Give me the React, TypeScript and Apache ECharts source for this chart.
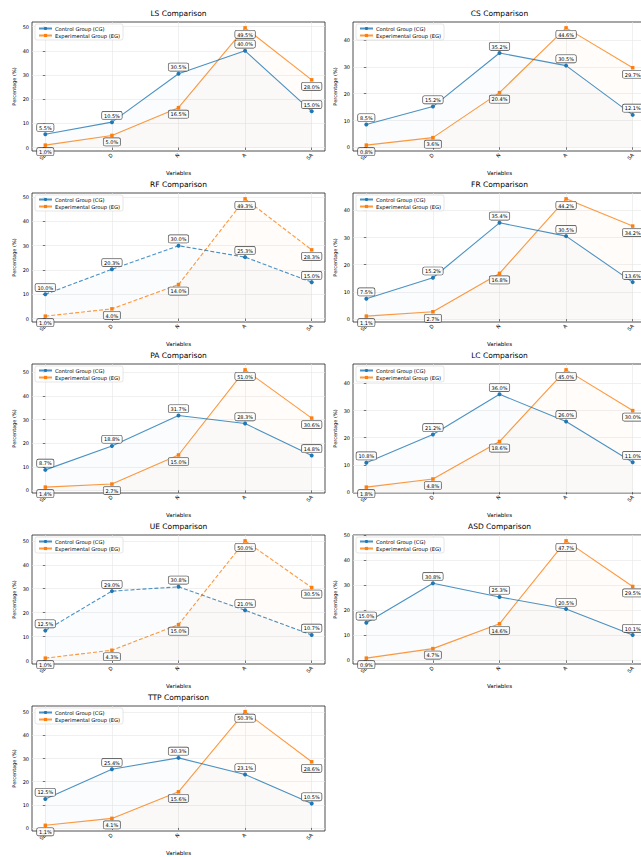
import React, { useEffect, useRef } from "react";
import * as echarts from "echarts";

const categories = ["SD", "D", "N", "A", "SA"];
const variables = ["LS", "CS", "RF", "FR", "PA", "LC", "UE", "ASD", "TTP"];
const yTickValues = [0, 10, 20, 30, 40, 50];

const lsControl = [5.5, 10.5, 30.5, 40.0, 15.0];
const lsExperimental = [1.0, 5.0, 16.5, 49.5, 28.0];
const csControl = [8.5, 15.2, 35.2, 30.5, 12.1];
const csExperimental = [0.8, 3.6, 20.4, 44.6, 29.7];
const rfControl = [10.0, 20.3, 30.0, 25.3, 15.0];
const rfExperimental = [1.0, 4.0, 14.0, 49.3, 28.3];
const frControl = [7.5, 15.2, 35.4, 30.5, 13.6];
const frExperimental = [1.1, 2.7, 16.8, 44.2, 34.2];
const paControl = [8.7, 18.8, 31.7, 28.3, 14.8];
const paExperimental = [1.4, 2.7, 15.0, 51.0, 30.6];
const lcControl = [10.8, 21.2, 36.0, 26.0, 11.0];
const lcExperimental = [1.8, 4.8, 18.6, 45.0, 30.0];
const ueControl = [12.5, 29.0, 30.8, 21.0, 10.7];
const ueExperimental = [1.0, 4.3, 15.0, 50.0, 30.5];
const asdControl = [15.0, 30.8, 25.3, 20.5, 10.1];
const asdExperimental = [0.9, 4.7, 14.6, 47.7, 29.5];
const ttpControl = [12.5, 25.4, 30.3, 23.1, 10.5];
const ttpExperimental = [1.1, 4.1, 15.6, 50.3, 28.6];

const controlSets = [lsControl, csControl, rfControl, frControl, paControl, lcControl, ueControl, asdControl, ttpControl];
const experimentalSets = [lsExperimental, csExperimental, rfExperimental, frExperimental, paExperimental, lcExperimental, ueExperimental, asdExperimental, ttpExperimental];
const dashedLines = [false, false, true, false, false, false, true, false, false];

const controlName = "Control Group (CG)";
const experimentalName = "Experimental Group (EG)";

const BLUE = "#1f77b4";
const ORANGE = "#ff7f0e";
const FONT = "DejaVu Sans";

export default function App() {
  const ref = useRef<HTMLDivElement>(null);

  useEffect(() => {
    document.body.style.margin = "0";
    document.body.style.overflow = "hidden";
    if (!ref.current) return;
    const chart = echarts.init(ref.current, undefined, { renderer: "svg" });

    const colLeft = [32, 353];
    const plotW = 293;
    const rowTop = [22, 193, 364, 535, 706];
    const plotH = 129;

    const grids: any[] = [];
    const xAxes: any[] = [];
    const yAxes: any[] = [];
    const series: any[] = [];
    const titles: any[] = [];
    const legends: any[] = [];

    variables.forEach((v, i) => {
      const col = i % 2;
      const row = Math.floor(i / 2);
      const left = colLeft[col];
      const top = rowTop[row];
      grids.push({
        left,
        top,
        width: plotW,
        height: plotH,
        show: true,
        borderColor: "#222",
        borderWidth: 0.8,
        backgroundColor: "#fff",
        containLabel: false,
      });
      const ctl = controlSets[i];
      const exp = experimentalSets[i];
      const all = ctl.concat(exp);
      const lo = Math.min(...all);
      const hi = Math.max(...all);
      const r = hi - lo;
      const ymin = lo - 0.05 * r;
      const ymax = hi + 0.05 * r;
      const yt = yTickValues.filter((t) => t <= ymax);

      xAxes.push({
        type: "value",
        gridIndex: i,
        min: -0.2,
        max: 4.2,
        name: "Variables",
        nameLocation: "middle",
        nameGap: 19,
        nameTextStyle: { fontSize: 5.5, fontFamily: FONT, color: "#000", fontWeight: "normal" },
        axisLine: { show: false },
        axisTick: { show: true, customValues: [0, 1, 2, 3, 4], length: 2.5, lineStyle: { color: "#222", width: 0.6 } },
        axisLabel: {
          customValues: [0, 1, 2, 3, 4],
          formatter: (val: number) => categories[Math.round(val)] ?? "",
          rotate: 45,
          fontSize: 5,
          fontFamily: FONT,
          color: "#000",
          margin: 3,
        },
        splitLine: { show: true, lineStyle: { color: "#e6e6e6", width: 0.6 } },
      });
      yAxes.push({
        type: "value",
        gridIndex: i,
        min: ymin,
        max: ymax,
        name: "Percentage (%)",
        nameLocation: "middle",
        nameRotate: 90,
        nameGap: 16,
        nameTextStyle: { fontSize: 5, fontFamily: FONT, color: "#000", fontWeight: "normal" },
        axisLine: { show: false },
        axisTick: { show: true, customValues: yt, length: 2.5, lineStyle: { color: "#222", width: 0.6 } },
        axisLabel: { customValues: yt, fontSize: 5, fontFamily: FONT, color: "#000", margin: 3 },
        splitLine: { show: true, lineStyle: { color: "#e6e6e6", width: 0.6 } },
      });
      titles.push({
        text: `${v} Comparison`,
        left: left + plotW / 2,
        top: top - 13,
        padding: 0,
        textAlign: "center",
        textStyle: { fontSize: 7.5, fontWeight: "normal", fontFamily: FONT, color: "#000" },
      });
      legends.push({
        data: [controlName, experimentalName],
        left: left + 3,
        top: top + 2,
        orient: "vertical",
        itemWidth: 13,
        itemHeight: 4,
        itemGap: 2,
        padding: [2, 3, 2, 3],
        backgroundColor: "rgba(255,255,255,0.85)",
        borderColor: "#ccc",
        borderWidth: 0.5,
        borderRadius: 2,
        textStyle: { fontSize: 5.2, fontFamily: FONT, color: "#000", padding: [0, 0, 0, -2] },
        selectedMode: false,
      });

      const mk = (name: string, vals: number[], color: string, sym: string, above: boolean) => ({
        type: "line",
        name,
        xAxisIndex: i,
        yAxisIndex: i,
        data: vals.map((y, k) => [k, y]),
        color,
        symbol: sym,
        symbolSize: sym === "rect" ? 3.5 : 4,
        showSymbol: true,
        lineStyle: { color, width: 1.1, type: dashedLines[i] ? [4, 2] : "solid", opacity: 0.8 },
        itemStyle: { color },
        areaStyle: { color, opacity: 0.025 },
        label: {
          show: true,
          position: above ? "top" : "bottom",
          distance: 1,
          formatter: (p: any) => `${p.value[1].toFixed(1)}%`,
          fontSize: 5,
          fontFamily: FONT,
          color: "#000",
          backgroundColor: "rgba(255,255,255,0.85)",
          borderColor: "#444",
          borderWidth: 0.6,
          borderRadius: 1.5,
          padding: [1.5, 2, 1, 2],
        },
        z: above ? 3 : 2,
      });
      series.push(mk(controlName, ctl, BLUE, "circle", true));
      series.push(mk(experimentalName, exp, ORANGE, "rect", false));
    });

    chart.setOption({
      animation: false,
      backgroundColor: "#fff",
      title: titles,
      legend: legends,
      grid: grids,
      xAxis: xAxes,
      yAxis: yAxes,
      series,
    });
    return () => chart.dispose();
  }, []);

  return (
    <div style={{ width: 641, height: 857, overflow: "hidden", position: "relative", background: "#fff" }}>
      <div ref={ref} style={{ width: 660, height: 857 }} />
    </div>
  );
}
